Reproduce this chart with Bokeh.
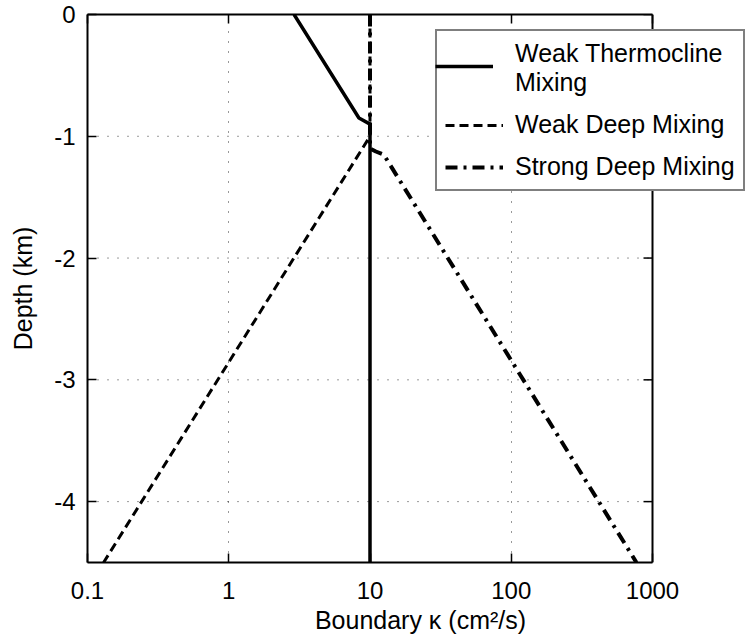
import math
from bokeh.plotting import figure
from bokeh.models import (LogAxis, FixedTicker, CustomJSTickFormatter,
                          Legend, LegendItem, Range1d, Span)
from bokeh.embed import file_html
from bokeh.resources import INLINE

# ---- data ----
x_ticks = [0.1, 1, 10, 100, 1000]
y_ticks = [-4, -3, -2, -1, 0]
depth_min, depth_max = -4.5, 0.0

weak_thermo_kappa = [2.9, 8.35, 10, 10]
weak_thermo_depth = [0.0, -0.85, -0.9, -4.5]

weak_deep_kappa = [10, 10, 0.13]
weak_deep_depth = [0.0, -1.0, -4.5]

strong_deep_kappa = [10, 10, 11.0, 12.5, 770]
strong_deep_depth = [0.0, -1.1, -1.125, -1.15, -4.5]

labels = ["Weak Thermocline\nMixing", "Weak Deep Mixing", "Strong Deep Mixing"]

FONT = "Liberation Sans"

# layout: the data box spans 0.1..1000 (565 px); the frame continues to the
# window edge so that the legend can hang over the right border as in the reference
PX_PER_DECADE = 565 / 4
x_end = x_ticks[-1] * 10 ** (101 / PX_PER_DECADE)

p = figure(width=753, height=640, frame_width=666, frame_height=548,
           x_axis_type="log", x_range=Range1d(x_ticks[0], x_end),
           y_range=Range1d(depth_min, depth_max),
           output_backend="svg", toolbar_location=None,
           min_border_left=87, min_border_right=0, min_border_top=14, min_border_bottom=78)

p.background_fill_color = "white"
p.border_fill_color = "white"
p.outline_line_color = None

xfmt = CustomJSTickFormatter(code="return tick < 1 ? tick.toFixed(1) : tick.toFixed(0);")
yfmt = CustomJSTickFormatter(code="return tick.toFixed(0);")

bottom = p.below[0]
left = p.left[0]
bottom.ticker = FixedTicker(ticks=x_ticks)
bottom.formatter = xfmt
bottom.bounds = (x_ticks[0], x_ticks[-1])
left.ticker = FixedTicker(ticks=y_ticks)
left.formatter = yfmt

top = LogAxis(ticker=FixedTicker(ticks=x_ticks), formatter=xfmt,
              bounds=(x_ticks[0], x_ticks[-1]))
p.add_layout(top, "above")

for ax in [bottom, left, top]:
    ax.axis_line_color = "black"
    ax.axis_line_width = 2
    ax.major_tick_in = 9
    ax.major_tick_out = 0
    ax.major_tick_line_width = 1.5
    ax.minor_tick_line_color = None
    ax.major_label_text_font = FONT
    ax.major_label_text_font_size = "24px"
    ax.major_label_text_color = "black"
    ax.axis_label_text_font = FONT
    ax.axis_label_text_font_size = "25px"
    ax.axis_label_text_font_style = "normal"
    ax.axis_label_text_color = "black"

top.major_label_text_font_size = "0px"
top.major_label_text_color = None
top.major_label_standoff = 0

bottom.major_label_standoff = 19
left.major_label_standoff = 12
bottom.axis_label = "Boundary \u03ba (cm\u00b2/s)"
left.axis_label = "Depth (km)"
bottom.axis_label_standoff = 4
left.axis_label_standoff = 14

# right border of the data box, with inward ticks
p.add_layout(Span(location=x_ticks[-1], dimension="height", line_color="black", line_width=2))
p.ray(x=[x_ticks[-1]] * len(y_ticks), y=y_ticks, length=9, angle=math.pi,
      length_units="screen", line_color="black", line_width=1.5)

# dotted grid
p.xgrid[0].ticker = FixedTicker(ticks=x_ticks)
p.xgrid[0].grid_line_color = "black"
p.xgrid[0].grid_line_alpha = 0.8
p.xgrid[0].grid_line_dash = "1 9"
p.ygrid[0].visible = False
p.segment(x0=[x_ticks[0]] * len(y_ticks), x1=[x_ticks[-1]] * len(y_ticks),
          y0=y_ticks, y1=y_ticks, line_color="black", line_alpha=0.8,
          line_dash="1 9", line_width=1, level="underlay")

r_dd = p.line(strong_deep_kappa, strong_deep_depth, line_color="black", line_width=4,
              line_dash="12 6 3 6")
r_wd = p.line(weak_deep_kappa, weak_deep_depth, line_color="black", line_width=3,
              line_dash="9 5")
r_wt = p.line(weak_thermo_kappa, weak_thermo_depth, line_color="black", line_width=3.5)
r_blank = p.line(x=[], y=[], line_alpha=0)


def style(lg):
    lg.label_text_font = FONT
    lg.label_text_font_size = "25px"
    lg.label_text_color = "black"
    lg.glyph_width = 58
    lg.glyph_height = 26
    lg.label_standoff = 12
    lg.padding = 8
    lg.margin = 0


legend = Legend(items=[LegendItem(label=labels[0], renderers=[r_blank]),
                       LegendItem(label=labels[1], renderers=[r_wd]),
                       LegendItem(label=labels[2], renderers=[r_dd])],
                location=(348, 371))
style(legend)
legend.spacing = 13
legend.border_line_color = "black"
legend.border_line_width = 2
legend.background_fill_color = "white"
legend.background_fill_alpha = 1
p.add_layout(legend, "center")

# solid-line sample aligned with the first line of the two-line label
legend2 = Legend(items=[LegendItem(label=" ", renderers=[r_wt])], location=(348, 483))
style(legend2)
legend2.border_line_color = None
legend2.background_fill_alpha = 0
p.add_layout(legend2, "center")

open("out.html", "w").write(file_html(p, INLINE))
